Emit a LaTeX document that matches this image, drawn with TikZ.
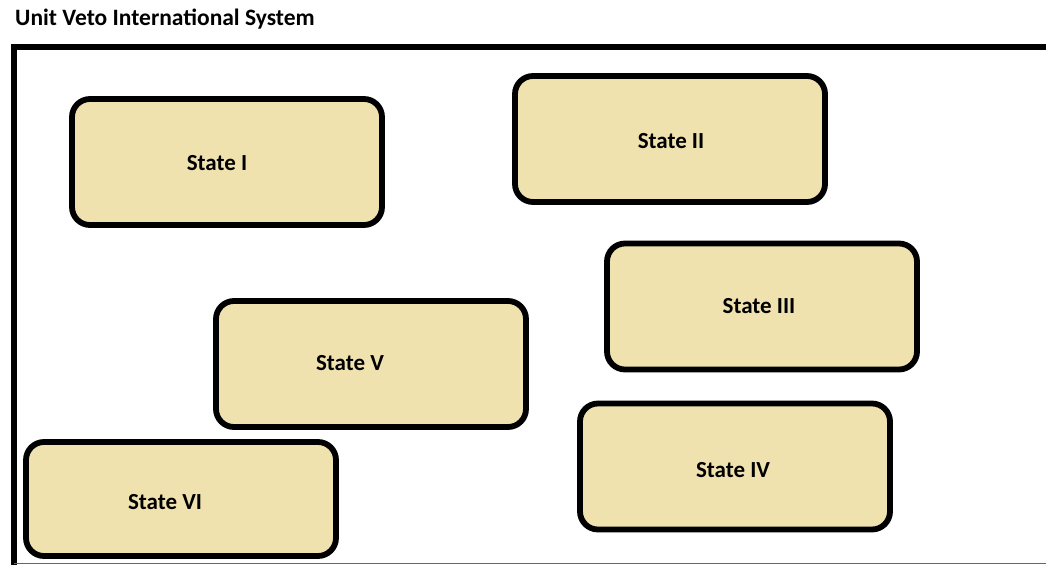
\documentclass[tikz,border=0pt]{standalone}
\usepackage{fontspec}
\setmainfont{Carlito}
\definecolor{boxfill}{HTML}{EFE2AE}
\begin{document}
\begin{tikzpicture}[x=1pt,y=-1pt,
  statebox/.style={draw=black, line width=5.8pt, fill=boxfill, rounded corners=18pt,
    minimum width=310pt, minimum height=126pt, inner sep=0pt},
  lbl/.style={font=\fontsize{23}{27}\selectfont\bfseries, inner sep=0pt},
  ttl/.style={font=\fontsize{23.5}{27}\selectfont\bfseries, inner sep=0pt, anchor=base west}]
\useasboundingbox (0,0) rectangle (1046,565);
% frame
\draw[line width=6pt] (14,565) -- (14,47) -- (1046,47);
\draw[line width=1pt, black!60] (14,563.5) -- (1046,563.5);
\node[ttl] (title) at (15,25.5) {Unit Veto International System};
% boxes
\node[statebox] (b1) at (227,162) {};
\node[statebox] (b2) at (670,139) {};
\node[statebox] (b3) at (762,306.5) {};
\node[statebox] (b5) at (371,364) {};
\node[statebox] (b4) at (735,466.5) {};
\node[statebox, minimum height=114pt] (b6) at (181,499) {};
% labels
\node[lbl] (l1) at (217,163) {State I};
\node[lbl] (l2) at (671,141) {State II};
\node[lbl] (l3) at (759,306) {State III};
\node[lbl] (l5) at (350,363) {State V};
\node[lbl] (l4) at (733,470) {State IV};
\node[lbl] (l6) at (165,502) {State VI};
\end{tikzpicture}
\end{document}
